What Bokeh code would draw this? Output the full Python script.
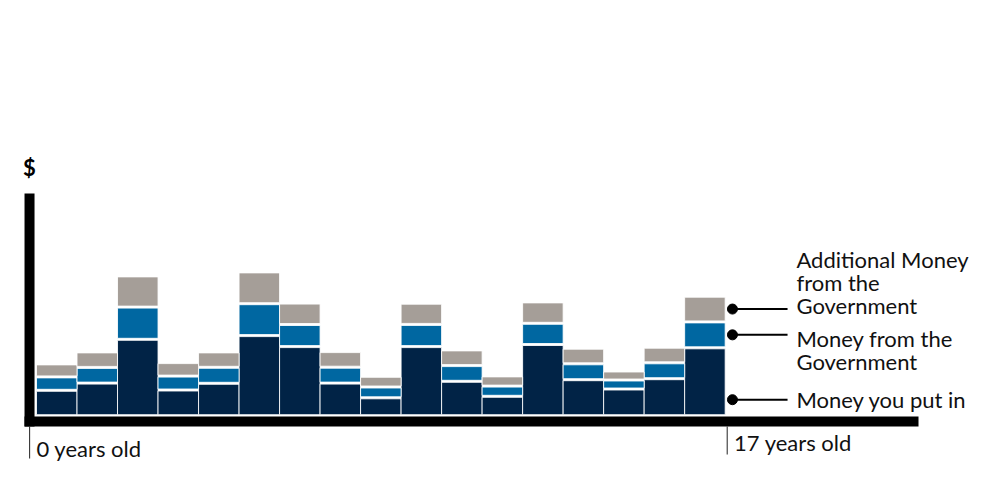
from bokeh.plotting import figure
from bokeh.models import Range1d, ColumnDataSource, Label, BoxAnnotation
from bokeh.embed import file_html
from bokeh.resources import INLINE

# ---------------- data ----------------
ages = list(range(17))  # one bar per year, 0 .. 16
you_put_in = [25.4, 32.6, 76.4, 25.7, 32.4, 80.1, 69.1, 32.6, 17.9, 69.1,
              34.4, 19.4, 71.2, 36.0, 26.7, 37.0, 67.9]
gov_money = [13.4, 15.7, 32.2, 13.9, 16.0, 31.9, 22.1, 15.9, 10.8, 22.2,
             15.7, 10.2, 21.2, 15.9, 9.0, 15.9, 25.9]
extra_gov = [13.0, 15.5, 31.2, 13.5, 15.4, 31.8, 21.4, 15.6, 10.7, 21.2,
             15.7, 10.2, 21.4, 15.6, 9.0, 15.6, 25.7]
tick_labels = ["0 years old", "17 years old"]
series_names = ["Money you put in", "Money from the Government",
                "Additional Money from the Government"]
legend_lines = [["Money you put in"],
                ["Money from the", "Government"],
                ["Additional Money", "from the", "Government"]]

# ---------------- styles ----------------
COLORS = ["#012346", "#0067a1", "#a59e98"]
FONT = "Lato"
FS = "22px"
INSET = 1.0          # half of the white gap between stacked pieces
LINE_H = 23          # text line height (y units == px)
TXT_SHIFT = 8        # text baseline correction

p = figure(width=984, height=484, output_backend="svg", toolbar_location=None,
           x_range=Range1d(-1.389, 22.902), y_range=Range1d(-68.8, 415.2),
           x_axis_location=None, y_axis_location=None, min_border=0,
           outline_line_color=None, background_fill_color="white")
p.xgrid.visible = False
p.ygrid.visible = False

# stacked bars
b1 = [d for d in you_put_in]
b2 = [d + g for d, g in zip(you_put_in, gov_money)]
b3 = [s + e for s, e in zip(b2, extra_gov)]
levels = [[0.0] * len(ages), b1, b2, b3]
for k in range(3):
    src = ColumnDataSource(dict(
        x=ages,
        bottom=[v + INSET for v in levels[k]],
        top=[v - INSET for v in levels[k + 1]],
    ))
    p.vbar(x="x", width=1.0, bottom="bottom", top="top", source=src,
           fill_color=COLORS[k], line_color="white", line_width=1, line_alpha=0.85)

# L-shaped axis
first = ages[0] - 0.5
last = ages[-1] + 0.5
p.add_layout(BoxAnnotation(left=first - 0.296, right=first - 0.049, bottom=-10.8, top=222.2,
                           fill_color="black", fill_alpha=1, line_color=None, level="underlay"))
p.add_layout(BoxAnnotation(left=first - 0.296, right=21.273, bottom=-10.8, top=-0.8,
                           fill_color="black", fill_alpha=1, line_color=None, level="underlay"))

# "$" label
p.add_layout(Label(x=first - 0.333, y=242.0 + 6, text="$", text_font=FONT, text_font_size="22px",
                   text_font_style="bold", text_color="black", text_baseline="alphabetic"))

# age ticks + labels
tick_x = [first - 0.17, last + 0.05]
tick_len = [32, 28]
tick_base = [-40.8, -34.8]
p.segment(x0=tick_x, x1=tick_x, y0=[-10.8, -10.8], y1=[-10.8 - t for t in tick_len],
          line_color="#222222", line_width=1)
for tx, lab, yb in zip(tick_x, tick_labels, tick_base):
    p.add_layout(Label(x=tx + 0.17, y=yb + TXT_SHIFT, text=lab, text_font=FONT, text_font_size=FS,
                       text_color="#111111", text_baseline="alphabetic"))

# direct legend attached to the last bar
i = len(ages) - 1
mark_y = [16.0, b1[i] + gov_money[i] / 2, b2[i] + extra_gov[i] / 2]
first_base_off = [-7.4, -11.6, 41.9]   # first-line baseline relative to marker
dot_x = last + 0.18
p.segment(x0=[dot_x] * 3, x1=[last + 1.54] * 3, y0=mark_y, y1=mark_y,
          line_color="black", line_width=2)
p.scatter(x=[dot_x] * 3, y=mark_y, size=10, fill_color="black", line_color="black")
for my, off, lines in zip(mark_y, first_base_off, legend_lines):
    for j, t in enumerate(lines):
        p.add_layout(Label(x=last + 1.76, y=my + off - j * LINE_H + TXT_SHIFT, text=t,
                           text_font=FONT, text_font_size=FS, text_color="#111111",
                           text_baseline="alphabetic"))

open("out.html", "w").write(file_html(p, INLINE))
